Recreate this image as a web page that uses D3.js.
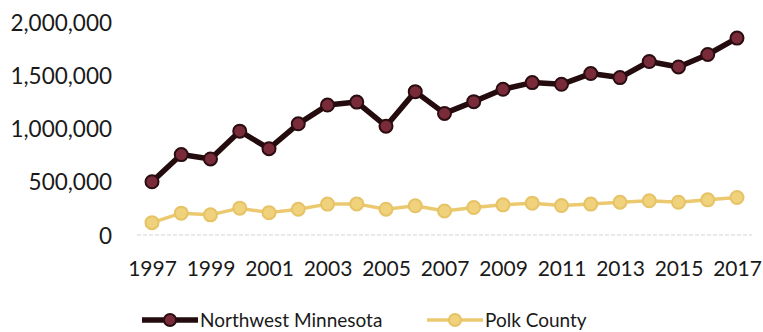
<!DOCTYPE html>
<html>
<head>
<meta charset="utf-8">
<script src="https://cdn.jsdelivr.net/npm/d3@7"></script>
<style>
  html, body { margin: 0; padding: 0; background: #fff; }
  svg { display: block; font-family: Lato, "Open Sans", sans-serif; }
</style>
</head>
<body>
<svg id="chart" width="763" height="332"></svg>
<script>
// Annual values, 1997–2017
const years = [1997, 1998, 1999, 2000, 2001, 2002, 2003, 2004, 2005, 2006, 2007,
               2008, 2009, 2010, 2011, 2012, 2013, 2014, 2015, 2016, 2017];
const northwestMinnesota = [500000, 755000, 714000, 975000, 811000, 1044000, 1220000,
  1248000, 1022000, 1346000, 1142000, 1252000, 1368000, 1431000, 1415000, 1516000,
  1478000, 1629000, 1578000, 1695000, 1849000];
const polkCounty = [116000, 205000, 189000, 252000, 210000, 242000, 290000, 292000,
  242000, 274000, 226000, 258000, 283000, 299000, 277000, 290000, 308000, 321000,
  308000, 330000, 352000];
const yTicks = [0, 500000, 1000000, 1500000, 2000000];
const xTicks = [1997, 1999, 2001, 2003, 2005, 2007, 2009, 2011, 2013, 2015, 2017];
const seriesNames = ["Northwest Minnesota", "Polk County"];

const svg = d3.select("#chart");

const x = d3.scaleLinear().domain([1997, 2017]).range([152, 737]);
const y = d3.scaleLinear().domain([0, 2000000]).range([235, 22]);

// faint dashed baseline at zero
svg.append("line")
  .attr("x1", 137).attr("x2", 752)
  .attr("y1", y(0)).attr("y2", y(0))
  .attr("stroke", "#d4d4d4")
  .attr("stroke-width", 1.2)
  .attr("stroke-dasharray", "4,2");

// y axis: labels only
const yAxis = svg.append("g")
  .attr("transform", "translate(112,0)")
  .call(d3.axisLeft(y).tickValues(yTicks).tickFormat(d3.format(",")).tickSize(0).tickPadding(0));
yAxis.select(".domain").remove();
yAxis.selectAll("text")
  .attr("font-size", 22.5)
  .attr("font-family", "Lato, 'Open Sans', sans-serif")
  .attr("fill", "#1a1a1a")
  .attr("dy", "0.36em");

// x axis: labels only
const xAxis = svg.append("g")
  .attr("transform", "translate(0,261)")
  .call(d3.axisBottom(x).tickValues(xTicks).tickFormat(d3.format("d")).tickSize(0).tickPadding(0));
xAxis.select(".domain").remove();
xAxis.selectAll("text")
  .attr("font-size", 21)
  .attr("font-family", "Lato, 'Open Sans', sans-serif")
  .attr("fill", "#1a1a1a")
  .attr("dy", "0.72em");

const line = d3.line().x(d => x(d[0])).y(d => y(d[1]));

const styles = [
  { line: "#240b0e", width: 5.5, fill: "#7a2b3a", stroke: "#2a0d11", r: 6.5 },
  { line: "#ebc96f", width: 3.5, fill: "#f0d17c", stroke: "#e6c366", r: 6.5 }
];

[polkCounty, northwestMinnesota].forEach((vals, k) => {
  const st = styles[1 - k];
  const pts = years.map((yr, i) => [yr, vals[i]]);
  const g = svg.append("g");
  g.append("path")
    .attr("d", line(pts))
    .attr("fill", "none")
    .attr("stroke", st.line)
    .attr("stroke-width", st.width)
    .attr("stroke-linejoin", "round");
  g.selectAll("circle").data(pts).join("circle")
    .attr("cx", d => x(d[0]))
    .attr("cy", d => y(d[1]))
    .attr("r", st.r)
    .attr("fill", st.fill)
    .attr("stroke", st.stroke)
    .attr("stroke-width", 2);
});

// legend
const legendItems = [
  { name: seriesNames[0], st: styles[0], x0: 142 },
  { name: seriesNames[1], st: styles[1], x0: 427 }
];
const legend = svg.append("g");
legendItems.forEach(it => {
  const ly = 320;
  legend.append("line")
    .attr("x1", it.x0).attr("x2", it.x0 + 56)
    .attr("y1", ly).attr("y2", ly)
    .attr("stroke", it.st.line)
    .attr("stroke-width", it.st.width);
  legend.append("circle")
    .attr("cx", it.x0 + 28).attr("cy", ly)
    .attr("r", 6)
    .attr("fill", it.st.fill)
    .attr("stroke", it.st.stroke)
    .attr("stroke-width", 2);
  legend.append("text")
    .attr("x", it.x0 + 58).attr("y", ly)
    .attr("dy", "0.36em")
    .attr("font-size", 19)
    .attr("fill", "#1a1a1a")
    .text(it.name);
});
</script>
</body>
</html>
